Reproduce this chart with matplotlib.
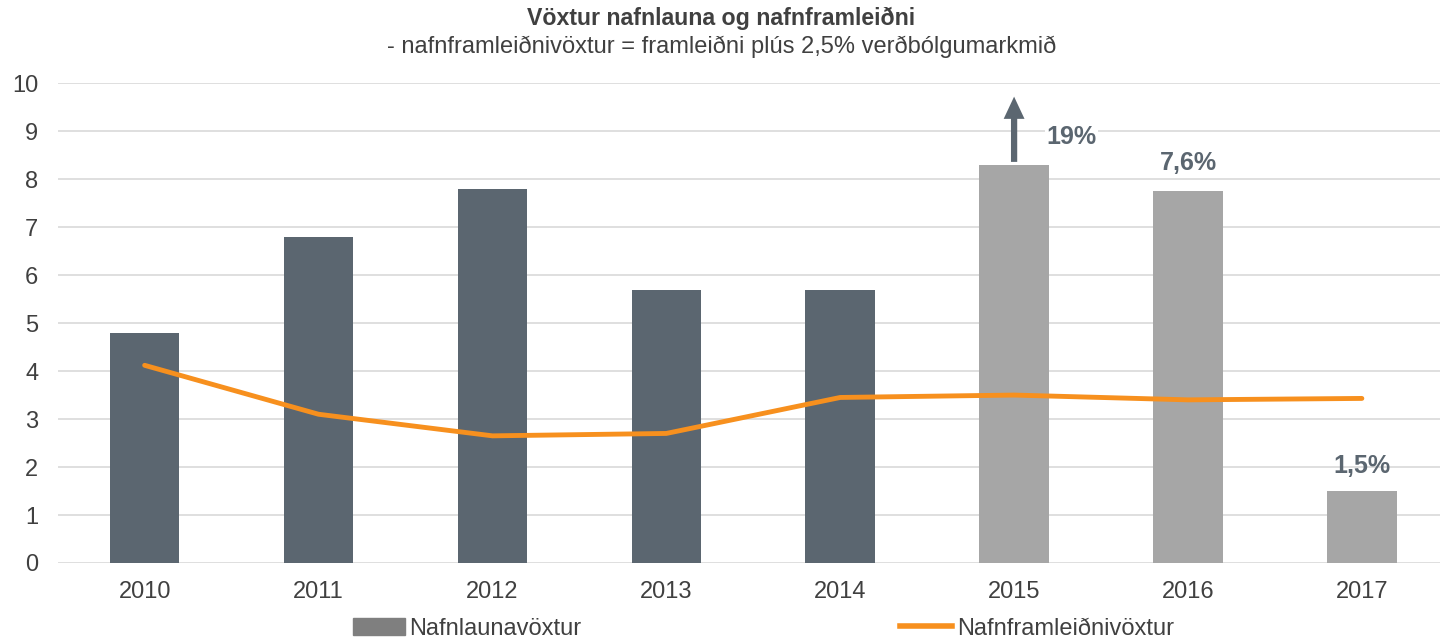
import matplotlib.pyplot as plt
import numpy as np
from matplotlib.patches import Patch, Rectangle
from matplotlib.lines import Line2D

plt.rcParams['font.family'] = ['Liberation Sans', 'DejaVu Sans']

years = ['2010', '2011', '2012', '2013', '2014', '2015', '2016', '2017']
nafnlaun = [4.8, 6.8, 7.8, 5.7, 5.7, 8.3, 7.75, 1.5]
nafnframleidni = [4.12, 3.1, 2.65, 2.7, 3.45, 3.5, 3.4, 3.43]
bar_labels = ['', '', '', '', '', '19%', '7,6%', '1,5%']

dark = '#5B6670'
light = '#A6A6A6'
orange = '#F7901E'
txt = '#404040'

fig = plt.figure(figsize=(14.43, 6.44), dpi=100)
ax = fig.add_axes([0.040, 0.1258, 0.958, 0.745])

x = np.arange(len(years))
colors = [dark] * 5 + [light] * 3
ax.bar(x, nafnlaun, width=0.4, color=colors, zorder=2)
ax.plot(x, nafnframleidni, color=orange, lw=3.5, solid_capstyle='round', zorder=3)

# white area behind the arrow (hides gridlines)
ax.add_patch(Rectangle((4.71, 8.4), 0.43, 1.75, color='white', zorder=1, clip_on=False))

# arrow on 2015 bar (value off the chart)
ax.annotate('', xy=(5, 9.72), xytext=(5, 8.36),
            arrowprops=dict(width=4.5, headwidth=15, headlength=16,
                            color=dark, lw=0), zorder=4)

label_pos = {5: (5.33, 8.87), 6: (6, 8.33), 7: (7, 2.02)}
for i, (lx, ly) in label_pos.items():
    ax.text(lx, ly, bar_labels[i], ha='center', va='center', fontsize=18,
            fontweight='bold', color=dark, zorder=5,
            bbox=dict(facecolor='white', edgecolor='none', pad=1) if i == 5 else None)

ax.set_xlim(-0.5, 7.45)
ax.set_ylim(0, 10)
ax.set_yticks(range(0, 11))
ax.set_xticks(x)
ax.set_xticklabels(years)
ax.tick_params(axis='both', length=0, labelsize=17, colors=txt)
ax.tick_params(axis='x', pad=13)
ax.tick_params(axis='y', pad=14)
ax.grid(axis='y', color='#D9D9D9', lw=1.2, zorder=0)
for s in ax.spines.values():
    s.set_visible(False)

fig.text(0.5, 0.972, 'Vöxtur nafnlauna og nafnframleiðni', ha='center', va='center',
         fontsize=16.7, fontweight='bold', color=txt)
fig.text(0.5, 0.928, '- nafnframleiðnivöxtur = framleiðni plús 2,5% verðbólgumarkmið',
         ha='center', va='center', fontsize=17, color=txt)

h1 = Patch(color='#7F7F7F', label='Nafnlaunavöxtur')
h2 = Line2D([], [], color=orange, lw=4, label='Nafnframleiðnivöxtur')
leg_kw = dict(frameon=False, fontsize=17, handlelength=2.2, handletextpad=0.2,
              borderpad=0, borderaxespad=0, labelcolor=txt, loc='center left')
fig.legend(handles=[h1], bbox_to_anchor=(0.2446, 0.024), **leg_kw)
fig.legend(handles=[h2], bbox_to_anchor=(0.6237, 0.024), **leg_kw)

plt.savefig('out.png', dpi=100)
plt.close()
